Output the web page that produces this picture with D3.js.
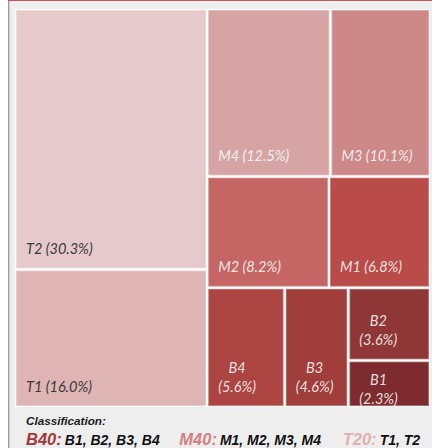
<!DOCTYPE html>
<html><head><meta charset="utf-8">
<script src="https://cdn.jsdelivr.net/npm/d3@7"></script>
<style>
html,body{margin:0;padding:0;background:#fff;}
svg{display:block;}
</style></head>
<body>
<svg id="chart" width="432" height="448"></svg>
<script>
// ---- data ----
const categories = ["T2","T1","M4","M3","M2","M1","B4","B3","B2","B1"];
const shares     = [30.3, 16.0, 12.5, 10.1, 8.2, 6.8, 5.6, 4.6, 3.6, 2.3];
const classGroups  = ["B40:", "M40:", "T20:"];
const classMembers = ["B1, B2, B3, B4", "M1, M2, M3, M4", "T1, T2"];
const legendTitle = "Classification:";

// ---- styles ----
const palette = ["#e5c9cb","#deb4b5","#d6a4a4","#cd8888","#c56664","#b94b49","#ac4442","#a03e3c","#8f3737","#7d2b2f"];
const groupColors = ["#a3363a","#d4807f","#e0b0b1"];
const color = d3.scaleOrdinal().domain(categories).range(palette);

const svg = d3.select("#chart");
// frame
svg.append("rect").attr("x",10).attr("y",0).attr("width",422).attr("height",448).attr("fill","#eeeeee");
svg.append("rect").attr("x",8).attr("y",0).attr("width",1.2).attr("height",448).attr("fill","#9a9a9a");
svg.append("rect").attr("x",9.2).attr("y",0).attr("width",1).attr("height",448).attr("fill","#cfcfcf");
svg.append("rect").attr("x",8).attr("y",0).attr("width",424).attr("height",1.3).attr("fill","#c45a5a");
svg.append("rect").attr("x",10).attr("y",1.3).attr("width",422).attr("height",1.5).attr("fill","#f7f7f7");

const X0 = 16, Y0 = 10, W = 413, H = 396;
svg.append("rect").attr("x",X0-1).attr("y",Y0-1).attr("width",W+2).attr("height",H+2).attr("fill","#ffffff");

const data = categories.map((c,i)=>({name:c, value:shares[i]}));
const root = d3.hierarchy({children:data}).sum(d=>d.value||0).sort((a,b)=>b.value-a.value);
d3.treemap().tile(d3.treemapSquarify.ratio(1)).size([W,H]).paddingInner(2)(root);

const g = svg.append("g").attr("transform",`translate(${X0},${Y0})`);
const defs = svg.append("defs");
const leaves = root.leaves();

leaves.forEach((d,i)=>{
  defs.append("clipPath").attr("id","clip"+i)
    .append("rect").attr("x",d.x0).attr("y",d.y0).attr("width",d.x1-d.x0).attr("height",d.y1-d.y0);
});

const cell = g.selectAll("g.cell").data(leaves).join("g").attr("class","cell")
  .attr("clip-path",(d,i)=>`url(#clip${i})`);

cell.append("rect")
  .attr("x",d=>d.x0).attr("y",d=>d.y0)
  .attr("width",d=>d.x1-d.x0).attr("height",d=>d.y1-d.y0)
  .attr("fill",d=>color(d.data.name));
cell.append("rect")
  .attr("x",d=>d.x0+0.5).attr("y",d=>d.y0+0.5)
  .attr("width",d=>d.x1-d.x0-1).attr("height",d=>d.y1-d.y0-1)
  .attr("fill","none").attr("stroke","rgba(255,255,255,0.3)").attr("stroke-width",1);

const PAD = 10, LH = 19, FS = 14.5;
cell.each(function(d){
  const sel = d3.select(this);
  const label = `${d.data.name} (${d.data.value.toFixed(1)}%)`;
  const isT = d.data.name.startsWith("T");
  const txt = sel.append("text")
    .attr("font-family","Lato, 'Open Sans', sans-serif")
    .attr("font-style","italic")
    .attr("font-size",FS)
    .attr("fill", isT ? "#3a3a3a" : "rgba(255,255,255,0.85)");
  const avail = (d.x1-d.x0) - 2*PAD - 6;
  // wrap
  const words = label.split(" ");
  let lines = [];
  let cur = "";
  const probe = txt.append("tspan");
  words.forEach(w=>{
    const t = cur ? cur+" "+w : w;
    probe.text(t);
    if (probe.node().getComputedTextLength() > avail && cur) { lines.push(cur); cur = w; }
    else cur = t;
  });
  lines.push(cur);
  probe.remove();
  const widths = lines.map(l=>{ const p = txt.append("tspan").text(l); const w = p.node().getComputedTextLength(); p.remove(); return w; });
  const blockW = d3.max(widths);
  const h = d.y1-d.y0;
  const n = lines.length;
  const fits = n*LH + 2*PAD <= h;
  lines.forEach((l,k)=>{
    const baseline = fits ? d.y1 - 14.5 - (n-1-k)*LH : d.y0 + 23.5 + k*LH;
    const cx = d.x0 + PAD + blockW/2;
    txt.append("tspan")
      .attr("x", n>1 ? cx : d.x0 + PAD)
      .attr("text-anchor", n>1 ? "middle" : "start")
      .attr("y", baseline).text(l);
  });
});

// legend
svg.append("text").attr("x",26).attr("y",425.3)
  .attr("font-family","'Liberation Sans', Arial, sans-serif")
  .attr("font-weight","bold").attr("font-style","italic").attr("font-size",11.7)
  .attr("fill","#1a1a1a").text(legendTitle);

const groupX = [26, 179.3, 342.7];
classGroups.forEach((gname,i)=>{
  const t = svg.append("text").attr("x",groupX[i]).attr("y",444.5)
    .attr("font-family","'Liberation Sans', Arial, sans-serif")
    .attr("font-weight","bold").attr("font-style","italic");
  t.append("tspan").attr("font-size",16.5).attr("fill",groupColors[i]).text(gname);
  t.append("tspan").attr("font-size",14).attr("fill","#111").attr("dx",3).text(classMembers[i]);
});
</script>
</body></html>
